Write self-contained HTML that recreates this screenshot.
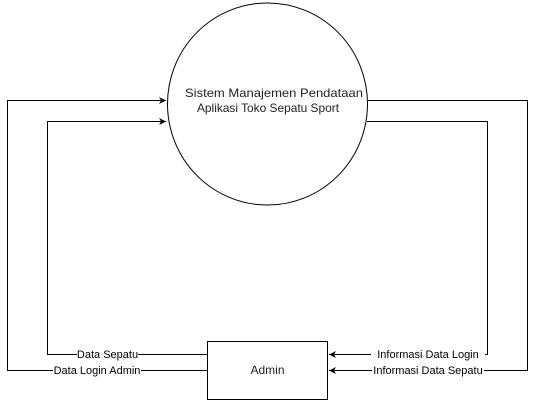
<!DOCTYPE html>
<html><head><style>body{margin:0;background:#fff}svg{display:block}</style></head><body>
<svg width="537" height="401" xmlns="http://www.w3.org/2000/svg" font-family="Liberation Sans, Arial, sans-serif" font-size="11">
<defs><marker id="a" markerWidth="8" markerHeight="8" refX="7" refY="4" orient="auto" markerUnits="userSpaceOnUse"><path d="M0,0.5 L7,4 L0,7.5 L2,4 Z" fill="#000"/></marker></defs>
<ellipse cx="267.5" cy="104" rx="100" ry="101" fill="#fff" stroke="#000"/>
<text x="185" y="97" font-size="12" fill="#222" textLength="178" lengthAdjust="spacingAndGlyphs">Sistem Manajemen Pendataan</text>
<text x="197" y="112" font-size="12" fill="#222" textLength="142" lengthAdjust="spacingAndGlyphs">Aplikasi Toko Sepatu Sport</text>
<rect x="207.5" y="341.5" width="120" height="58" fill="#fff" stroke="#000"/>
<text x="267.5" y="374" text-anchor="middle" font-size="12" fill="#222">Admin</text>
<g fill="none" stroke="#000">
<path d="M207,370.5 H7.5 V100.5 H166" marker-end="url(#a)"/>
<path d="M207,354.5 H47.5 V121.5 H166" marker-end="url(#a)"/>
<path d="M368,100.5 H527.5 V370.5 H329" marker-end="url(#a)"/>
<path d="M367,121.5 H487.5 V354.5 H329" marker-end="url(#a)"/>
</g>
<g fill="#000">
<rect x="77" y="348" width="61" height="12" fill="#fff"/><text x="107.5" y="358" text-anchor="middle">Data Sepatu</text>
<rect x="53" y="364" width="88" height="12" fill="#fff"/><text x="97" y="374" text-anchor="middle">Data Login Admin</text>
<rect x="371" y="348" width="114" height="12" fill="#fff"/><text x="428" y="358" text-anchor="middle">Informasi Data Login</text>
<rect x="372" y="364" width="112" height="12" fill="#fff"/><text x="428" y="374" text-anchor="middle">Informasi Data Sepatu</text>
</g>
</svg>
</body></html>
